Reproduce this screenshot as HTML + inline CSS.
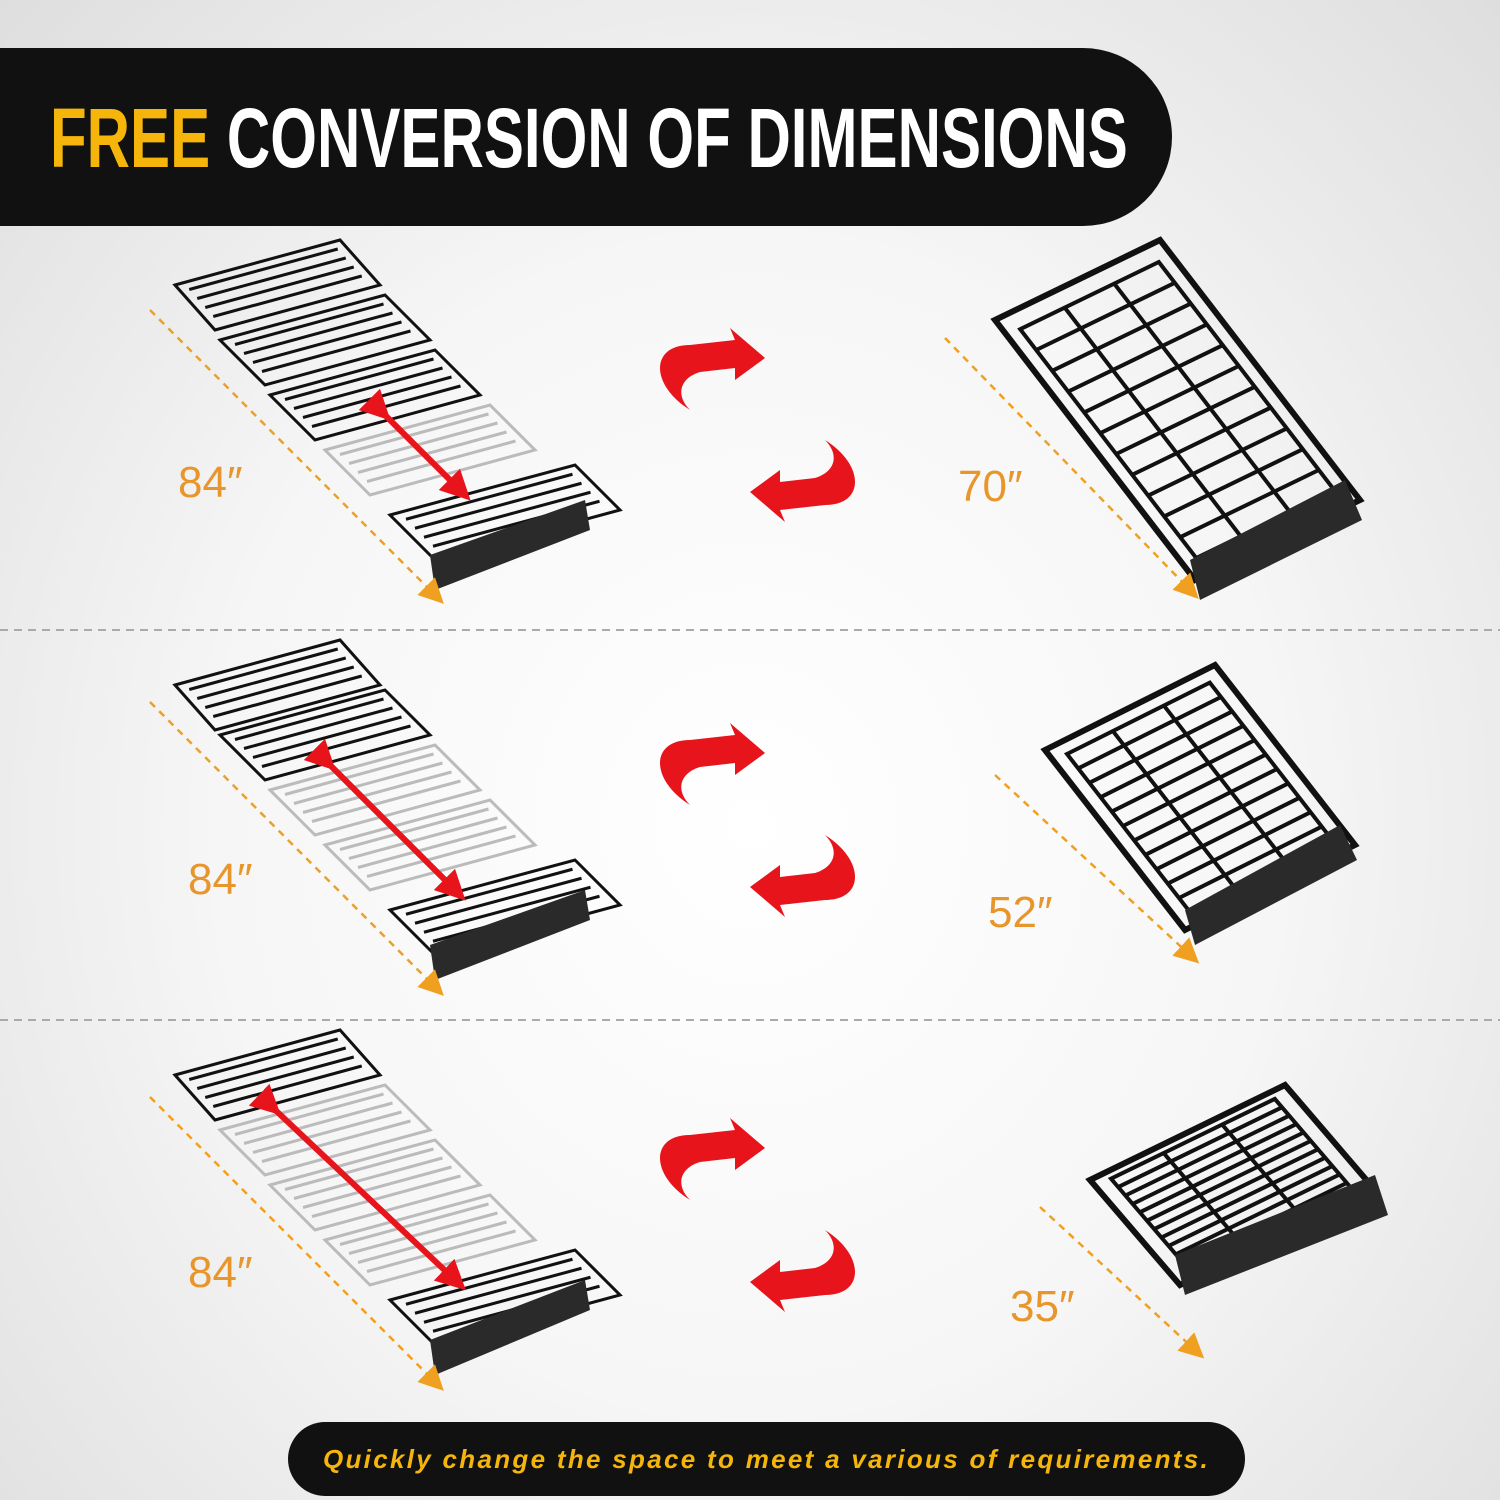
<!DOCTYPE html>
<html><head><meta charset="utf-8"><style>
html,body{margin:0;padding:0}
body{width:1500px;height:1500px;overflow:hidden;background:radial-gradient(ellipse at 50% 55%,#ffffff 0%,#f6f6f6 50%,#dedede 100%);position:relative;font-family:"Liberation Sans",sans-serif}
.hdr{position:absolute;left:0;top:48px;width:1172px;height:178px;background:#111;border-radius:0 89px 89px 0}
.hdr .t{position:absolute;left:50px;top:42px;font-weight:bold;font-size:84px;color:#fff;letter-spacing:0px;transform:scaleX(0.715);transform-origin:left;white-space:nowrap}
.hdr .t b{color:#f5b50a}
.pill{position:absolute;left:288px;top:1422px;width:957px;height:74px;background:#111;border-radius:37px;color:#f5b50a;font-weight:bold;font-style:italic;font-size:26px;text-align:center;line-height:74px;letter-spacing:2.3px}
.lab{position:absolute;color:#e8962c;font-size:44px}
svg{position:absolute;left:0;top:0}
</style></head><body>
<svg width="1500" height="1500" viewBox="0 0 1500 1500">
<defs>
<marker id="oa" markerWidth="10" markerHeight="10" refX="5" refY="5" orient="auto"><path d="M0,0 L10,5 L0,10 z" fill="#f0a020"/></marker>
<marker id="ra" markerWidth="5" markerHeight="5" refX="2.5" refY="2.5" orient="auto"><path d="M0,0 L5,2.5 L0,5 z" fill="#e8141c"/></marker>
<g id="piece" fill="none" stroke-width="3" vector-effect="non-scaling-stroke">
<path d="M0,0 L1,0 L1,1 L0,1 Z M0.05,0.15 L0.95,0.15 M0.05,0.35 L0.95,0.35 M0.05,0.55 L0.95,0.55 M0.05,0.75 L0.95,0.75" vector-effect="non-scaling-stroke"/>
</g>
<g id="big" fill="none" stroke="#111" stroke-width="4">
<path d="M0,0 L1,0 L1,1 L0,1 Z" vector-effect="non-scaling-stroke" stroke-width="6"/>
<path d="M0.08,0.06 L0.92,0.06 L0.92,0.94 L0.08,0.94 Z" vector-effect="non-scaling-stroke"/>
<path d="M0.08,0.14 L0.92,0.14 M0.08,0.22 L0.92,0.22 M0.08,0.30 L0.92,0.30 M0.08,0.38 L0.92,0.38 M0.08,0.46 L0.92,0.46 M0.08,0.54 L0.92,0.54 M0.08,0.62 L0.92,0.62 M0.08,0.70 L0.92,0.70 M0.08,0.78 L0.92,0.78 M0.08,0.86 L0.92,0.86 M0.35,0.06 L0.35,0.94 M0.65,0.06 L0.65,0.94" vector-effect="non-scaling-stroke"/>
</g>
</defs>
<line x1="0" y1="630" x2="1500" y2="630" stroke="#aaa" stroke-width="2" stroke-dasharray="8,6"/>
<line x1="0" y1="1020" x2="1500" y2="1020" stroke="#aaa" stroke-width="2" stroke-dasharray="8,6"/>

<g stroke="#111"><use href="#piece" transform="matrix(165,-45,40,45,175,285)"/><use href="#piece" transform="matrix(165,-45,45,45,220,340)"/><use href="#piece" transform="matrix(165,-45,45,45,270,395)"/></g>
<g stroke="#bbb"><use href="#piece" transform="matrix(165,-45,45,45,325,450)"/></g>
<g stroke="#111"><use href="#piece" transform="matrix(185,-50,45,45,390,515)"/></g>
<polygon points="430,555 585,500 590,530 435,590" fill="#2a2a2a"/>
<line x1="380" y1="410" x2="460" y2="490" stroke="#e8141c" stroke-width="6" marker-start="url(#ra)" marker-end="url(#ra)"/>
<line x1="150" y1="310" x2="435" y2="595" stroke="#f0a020" stroke-width="2.5" stroke-dasharray="7,6" marker-end="url(#oa)"/>
<use href="#big" transform="matrix(165,-80,200,260,995,320)"/>
<polygon points="1190,560 1345,480 1362,520 1200,600" fill="#2a2a2a"/>
<line x1="945" y1="338" x2="1190" y2="590" stroke="#f0a020" stroke-width="2.5" stroke-dasharray="7,6" marker-end="url(#oa)"/>

<g stroke="#111"><use href="#piece" transform="matrix(165,-45,40,45,175,685)"/><use href="#piece" transform="matrix(165,-45,45,45,220,735)"/></g>
<g stroke="#bbb"><use href="#piece" transform="matrix(165,-45,45,45,270,790)"/><use href="#piece" transform="matrix(165,-45,45,45,325,845)"/></g>
<g stroke="#111"><use href="#piece" transform="matrix(185,-50,45,45,390,910)"/></g>
<polygon points="430,945 585,890 590,920 435,980" fill="#2a2a2a"/>
<line x1="325" y1="760" x2="455" y2="890" stroke="#e8141c" stroke-width="6" marker-start="url(#ra)" marker-end="url(#ra)"/>
<line x1="150" y1="702" x2="435" y2="987" stroke="#f0a020" stroke-width="2.5" stroke-dasharray="7,6" marker-end="url(#oa)"/>
<use href="#big" transform="matrix(170,-85,140,180,1045,750)"/>
<polygon points="1185,910 1340,825 1357,860 1195,945" fill="#2a2a2a"/>
<line x1="995" y1="775" x2="1190" y2="955" stroke="#f0a020" stroke-width="2.5" stroke-dasharray="7,6" marker-end="url(#oa)"/>

<g stroke="#111"><use href="#piece" transform="matrix(165,-45,40,45,175,1075)"/></g>
<g stroke="#bbb"><use href="#piece" transform="matrix(165,-45,45,45,220,1130)"/><use href="#piece" transform="matrix(165,-45,45,45,270,1185)"/><use href="#piece" transform="matrix(165,-45,45,45,325,1240)"/></g>
<g stroke="#111"><use href="#piece" transform="matrix(185,-50,45,45,390,1300)"/></g>
<polygon points="430,1340 585,1280 590,1310 435,1375" fill="#2a2a2a"/>
<line x1="270" y1="1105" x2="455" y2="1280" stroke="#e8141c" stroke-width="6" marker-start="url(#ra)" marker-end="url(#ra)"/>
<line x1="150" y1="1097" x2="435" y2="1382" stroke="#f0a020" stroke-width="2.5" stroke-dasharray="7,6" marker-end="url(#oa)"/>
<use href="#big" transform="matrix(195,-95,90,105,1090,1180)"/>
<polygon points="1175,1255 1375,1175 1388,1215 1185,1295" fill="#2a2a2a"/>
<line x1="1040" y1="1207" x2="1195" y2="1350" stroke="#f0a020" stroke-width="2.5" stroke-dasharray="7,6" marker-end="url(#oa)"/>

<g fill="#e8141c">
<g id="arr">
<path d="M690,410 C650,385 650,345 690,345 L735,340 L730,328 L765,358 L735,380 L735,368 L700,372 C680,378 675,395 690,410 Z"/>
<path d="M825,440 C865,465 865,505 825,505 L780,510 L785,522 L750,492 L780,470 L780,482 L815,478 C835,472 840,455 825,440 Z"/>
</g>
<use href="#arr" transform="translate(0,395)"/>
<use href="#arr" transform="translate(0,790)"/>
</g>
</svg>
<div class="hdr"><div class="t"><b>FREE</b> CONVERSION OF DIMENSIONS</div></div>
<div class="lab" style="left:178px;top:458px">84″</div>
<div class="lab" style="left:188px;top:855px">84″</div>
<div class="lab" style="left:188px;top:1248px">84″</div>
<div class="lab" style="left:958px;top:462px">70″</div>
<div class="lab" style="left:988px;top:888px">52″</div>
<div class="lab" style="left:1010px;top:1282px">35″</div>
<div class="pill">Quickly change the space to meet a various of requirements.</div>
</body></html>
